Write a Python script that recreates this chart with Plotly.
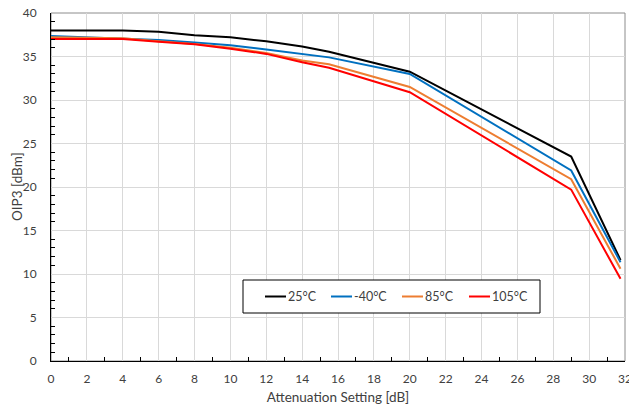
import plotly.graph_objects as go

atten = [0, 4, 6, 8, 10, 12, 14, 15.5, 20, 29, 31.75]
oip3_25 = [38.0, 38.0, 37.85, 37.45, 37.2, 36.75, 36.15, 35.55, 33.25, 23.5, 11.6]
oip3_m40 = [37.35, 37.05, 36.9, 36.6, 36.3, 35.8, 35.3, 34.9, 33.0, 21.9, 11.35]
oip3_85 = [37.2, 37.1, 36.75, 36.45, 36.0, 35.4, 34.55, 34.1, 31.5, 20.9, 10.6]
oip3_105 = [37.0, 37.0, 36.7, 36.4, 35.9, 35.3, 34.35, 33.7, 30.9, 19.7, 9.45]

series_names = ["25°C", "-40°C", "85°C", "105°C"]
series_values = [oip3_25, oip3_m40, oip3_85, oip3_105]
series_colors = ["#000000", "#0070C0", "#ED7D31", "#FF0000"]

FONT = "Lato, 'Open Sans', sans-serif"
W, H = 629, 410
ML, MR, MT, MB = 51, 4, 13, 49
PW, PH = W - ML - MR, H - MT - MB


def px_x(p):
    return (p - ML) / PW


def px_y(p):
    return (H - MB - p) / PH


fig = go.Figure()
for name, ys, col in zip(series_names, series_values, series_colors):
    fig.add_trace(go.Scatter(x=atten, y=ys, name=name, mode="lines",
                             line=dict(color=col, width=2), showlegend=False))

fig.add_shape(type="rect", xref="paper", yref="paper", x0=0, y0=0, x1=1, y1=1,
              line=dict(color="#8c8c8c", width=1), layer="below")

# legend (drawn manually to mimic the compact boxed legend)
fig.add_shape(type="rect", xref="paper", yref="paper",
              x0=px_x(243), x1=px_x(540), y0=px_y(313), y1=px_y(280),
              line=dict(color="#000000", width=1), fillcolor="white", layer="above")
leg_line_x = [265, 331, 402, 469]
ly = px_y(296.5)
for name, col, lx in zip(series_names, series_colors, leg_line_x):
    fig.add_shape(type="line", xref="paper", yref="paper",
                  x0=px_x(lx), x1=px_x(lx + 21), y0=ly, y1=ly,
                  line=dict(color=col, width=2), layer="above")
    fig.add_annotation(xref="paper", yref="paper", x=px_x(lx + 21), y=ly,
                       text=name, showarrow=False, xanchor="left", yanchor="middle",
                       xshift=0, font=dict(family=FONT, size=12.5, color="#404040"))

# y-axis title
fig.add_annotation(xref="paper", yref="paper", x=0, y=0.5, xshift=-34,
                   text="OIP3 [dBm]", textangle=-90, showarrow=False,
                   xanchor="center", yanchor="middle",
                   font=dict(family=FONT, size=13.5, color="#404040"))

fig.update_layout(
    width=W, height=H,
    margin=dict(l=ML, r=MR, t=MT, b=MB),
    paper_bgcolor="white", plot_bgcolor="white",
    font=dict(family=FONT, size=12, color="#404040"),
    showlegend=False,
    xaxis=dict(range=[0, 32], dtick=2, tick0=0, showgrid=True, gridcolor="#d9d9d9",
               gridwidth=1, showline=True, linecolor="#000000", linewidth=1,
               ticks="", zeroline=False, ticklabeloverflow="allow",
               ticklabelstandoff=7, automargin=False,
               tickfont=dict(size=12, color="#404040"),
               minor=dict(ticks="inside", dtick=1, tick0=0, ticklen=4,
                          tickcolor="#000000", showgrid=False),
               title=dict(text="Attenuation Setting [dB]", font=dict(size=13.5, color="#404040"),
                          standoff=7)),
    yaxis=dict(range=[0, 40], dtick=5, tick0=0, showgrid=True, gridcolor="#d9d9d9",
               gridwidth=1, showline=True, linecolor="#000000", linewidth=1,
               ticks="", zeroline=False, automargin=False,
               ticklabelstandoff=11,
               tickfont=dict(size=12, color="#404040"),
               minor=dict(ticks="inside", dtick=1, tick0=0, ticklen=4,
                          tickcolor="#000000", showgrid=False)),
)

fig.write_html("out.html")
